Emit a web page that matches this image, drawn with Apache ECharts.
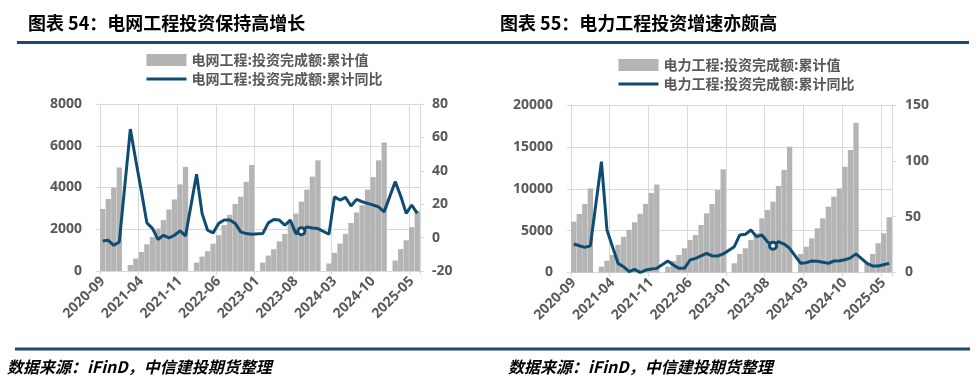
<!DOCTYPE html>
<html><head><meta charset="utf-8">
<script src="https://cdn.jsdelivr.net/npm/echarts@6/dist/echarts.min.js"></script>
<style>html,body{margin:0;padding:0;background:#fff}#c{width:978px;height:383px}</style>
</head><body><div id="c"></div>
<script>
const months = ['2020-09','2020-10','2020-11','2020-12',
'2021-01','2021-02','2021-03','2021-04','2021-05','2021-06','2021-07','2021-08','2021-09','2021-10','2021-11','2021-12',
'2022-01','2022-02','2022-03','2022-04','2022-05','2022-06','2022-07','2022-08','2022-09','2022-10','2022-11','2022-12',
'2023-01','2023-02','2023-03','2023-04','2023-05','2023-06','2023-07','2023-08','2023-09','2023-10','2023-11','2023-12',
'2024-01','2024-02','2024-03','2024-04','2024-05','2024-06','2024-07','2024-08','2024-09','2024-10','2024-11','2024-12',
'2025-01','2025-02','2025-03','2025-04','2025-05','2025-06'];

// 电网工程:投资完成额:累计值 (亿元)
const gridCum = [2970,3450,4000,4960,
 null,290,600,910,1280,1630,2030,2440,2950,3430,4150,4990,
 null,400,690,950,1310,1720,2200,2690,3210,3560,4270,5080,
 null,400,735,1040,1420,1780,2300,2750,3320,3900,4520,5300,
 null,360,870,1310,1780,2300,2800,3150,3900,4500,5300,6150,
 null,500,1050,1470,2100,2880];
// 电网工程:投资完成额:累计同比 (%)
const gridYoy = [-2.0,-1.6,-4.6,-2.6,
 null,65,46,27.7,8.8,5.5,-1.1,1.4,-0.2,1.4,4.0,1.0,
 null,37.9,14.5,4.4,2.8,8.5,10.5,10.5,8.5,3.4,2.4,2.0,
 null,2.4,8.8,10.8,10.5,7.4,10.5,2.4,3.8,6.4,5.8,5.4,
 null,2.0,24.4,22.5,24.1,18.9,22.9,21.5,20.5,19.5,18.4,15.4,
 null,33.5,24.9,14.5,19.5,14.5];
// 电力工程:投资完成额:累计值 (亿元)
const powerCum = [6070,6990,8180,10050,
 null,700,1400,2100,3300,4270,5100,6000,7000,8200,9500,10500,
 null,700,1380,2090,2890,3880,4480,5670,7070,8180,9850,12320,
 null,1100,2210,2890,3880,4680,6470,7460,8460,10330,12240,15020,
 null,2210,3080,4080,5280,6470,7860,9050,10050,12630,14630,17890,
 null,1100,2210,3490,4680,6600];
// 电力工程:投资完成额:累计同比 (%)
const powerYoy = [25.5,24,22.5,24,
 null,99.2,38,23,8.2,5.2,0.7,2.8,0,2.2,3.1,3.7,
 null,10.3,6.7,3.7,3.7,11.2,12.7,14.8,17.2,14.8,14.8,16.6,
 null,23.1,33.6,34.2,38.1,32.1,33.6,27.6,24,27.6,25.5,21.7,
 null,8.2,8.8,10.3,10,9.1,8.2,10.3,10.6,11.4,13.1,16.7,
 null,8.2,5.8,5.8,7,8.2];

const markIndex = 36;
const gridNames = ['电网工程:投资完成额:累计值','电网工程:投资完成额:累计同比'];
const powerNames = ['电力工程:投资完成额:累计值','电力工程:投资完成额:累计同比'];
const titles = ['图表 54：电网工程投资保持高增长','图表 55：电力工程投资增速亦颇高'];
const sourceText = '数据来源：iFinD，中信建投期货整理';

const BAR = '#b4b4b4', LINE = '#0f4c72', GRIDC = '#d9d9d9', TXT = '#595959', RULE = '#1a4b6b';
const FF = '"Noto Sans","Noto Sans CJK SC",sans-serif';
const lab = {color:TXT, fontSize:14, fontWeight:'bold', fontFamily:FF};

function xAx(gi){
  return {type:'category', gridIndex:gi, data:months, boundaryGap:true,
    axisLine:{show:true, lineStyle:{color:GRIDC}},
    axisTick:{show:true, interval:6, length:4, lineStyle:{color:GRIDC}},
    axisLabel:Object.assign({interval:6, rotate:45, margin:8}, lab),
    splitLine:{show:true, interval:6, lineStyle:{color:GRIDC}}};
}
function yAx(gi, min, max, itv, pos, margin, split){
  return {type:'value', gridIndex:gi, min:min, max:max, interval:itv, position:pos,
    axisLine:{show:true, lineStyle:{color:GRIDC}},
    axisTick:{show:true, length:4, lineStyle:{color:GRIDC}},
    axisLabel:Object.assign({margin:margin, formatter:function(v){return String(v);}}, lab),
    splitLine:{show:split, lineStyle:{color:GRIDC}}};
}
function legend(names, left, top){
  return {orient:'vertical', left:left, top:top, itemWidth:40, itemHeight:12, itemGap:5,
    textStyle:{color:TXT, fontSize:14, fontWeight:'bold', fontFamily:'"Noto Sans CJK SC",sans-serif'},
    data:[{name:names[0], icon:'rect'}, {name:names[1], itemStyle:{opacity:0}, lineStyle:{width:3}}]};
}
function lineSeries(name, xi, yi, data){
  return {type:'line', name:name, xAxisIndex:xi, yAxisIndex:yi, data:data, connectNulls:true,
    symbol:'none', lineStyle:{width:3, color:LINE}, itemStyle:{color:LINE},
    markPoint:{symbol:'circle', symbolSize:7, label:{show:false},
      itemStyle:{color:'#fff', borderColor:LINE, borderWidth:3},
      data:[{coord:[months[markIndex], data[markIndex]]}]}};
}
function barSeries(name, xi, yi, data){
  return {type:'bar', name:name, xAxisIndex:xi, yAxisIndex:yi, data:data,
    barCategoryGap:'4%', itemStyle:{color:BAR}};
}
function txt(x, y, s, size, italic){
  return {type:'text', x:x, y:y, style:{text:s, fill:'#000', fontSize:size, fontWeight:'bold',
    fontStyle: italic ? 'italic' : 'normal', fontFamily:'"Noto Sans CJK SC",sans-serif',
    verticalAlign:'middle', align:'left'}};
}

const chart = echarts.init(document.getElementById('c'));
chart.setOption({
  animation:false,
  backgroundColor:'#fff',
  grid:[{left:100, top:104, width:320, height:167},
        {left:571, top:105, width:321, height:167.5}],
  xAxis:[xAx(0), xAx(1)],
  yAxis:[yAx(0,0,8000,2000,'left',18,true), yAx(0,-20,80,20,'right',12,false),
         yAx(1,0,20000,5000,'left',18,true), yAx(1,0,150,50,'right',13,false)],
  legend:[legend(gridNames,140,48), legend(powerNames,612,53)],
  series:[barSeries(gridNames[0],0,0,gridCum), lineSeries(gridNames[1],0,1,gridYoy),
          barSeries(powerNames[0],1,2,powerCum), lineSeries(powerNames[1],1,3,powerYoy)],
  graphic:[
    txt(28,22.7,titles[0],18,false), txt(500,22.7,titles[1],18,false),
    {type:'rect', shape:{x:17,y:41,width:952,height:3}, style:{fill:RULE}},
    {type:'rect', shape:{x:15,y:347.5,width:955,height:3}, style:{fill:RULE}},
    txt(7,366.7,sourceText,16,true), txt(508,366.7,sourceText,16,true)
  ]
});
</script></body></html>
